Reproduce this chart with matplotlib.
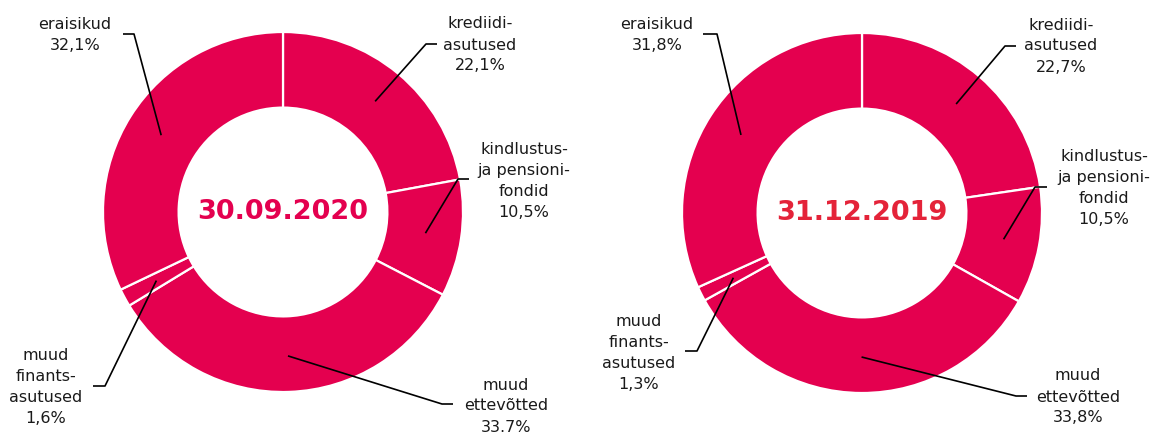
import numpy as np
import matplotlib
matplotlib.use("Agg")
import matplotlib.pyplot as plt

# data
sectors = ["krediidi-\nasutused", "kindlustus-\nja pensioni-\nfondid", "muud\nettevõtted",
           "muud\nfinants-\nasutused", "eraisikud"]
share_2020 = [22.1, 10.5, 33.7, 1.6, 32.1]
share_2019 = [22.7, 10.5, 33.8, 1.3, 31.8]
pct_2020 = ["22,1%", "10,5%", "33.7%", "1,6%", "32,1%"]
pct_2019 = ["22,7%", "10,5%", "33,8%", "1,3%", "31,8%"]
dates = ["30.09.2020", "31.12.2019"]

W, H = 1151, 433
PINK = "#E4004F"
date_colors = ["#E4004F", "#E42339"]

# layout in image pixels (x, y from top): text centre, elbow, line end
layout_2020 = [
    ((480, 45), (426, 44), (437, 44)),
    ((524, 181), (458, 179), (469, 179)),
    ((506, 406), (442, 404), (453, 404)),
    ((46, 387), (105, 386), (93, 386)),
    ((75, 35), (134, 34), (123, 34)),
]
layout_2019 = [
    ((1061, 46), (1005, 46), (1016, 46)),
    ((1104, 188), (1035, 187), (1047, 187)),
    ((1078, 397), (1016, 396), (1027, 396)),
    ((639, 353), (697, 351), (685, 351)),
    ((657, 35), (717, 34), (703, 34)),
]

fig = plt.figure(figsize=(W / 100, H / 100), dpi=100)
ax = fig.add_axes([0, 0, 1, 1])

R = 180
charts = [
    (share_2020, pct_2020, (283, 212), layout_2020, dates[0], date_colors[0]),
    (share_2019, pct_2019, (862, 213), layout_2019, dates[1], date_colors[1]),
]

for vals, pcts, (cx, cy), lay, date, dcol in charts:
    wedges, _ = ax.pie(vals, radius=R, center=(cx, H - cy), startangle=90,
                       counterclock=False, colors=[PINK] * len(vals),
                       wedgeprops=dict(width=0.42 * R, edgecolor="white", linewidth=1.6))
    ax.text(cx, H - cy, date, ha="center", va="center", fontsize=19.5,
            fontweight="bold", color=dcol)
    for w, name, pct, (txt, elbow, end) in zip(wedges, sectors, pcts, lay):
        ang = np.deg2rad((w.theta1 + w.theta2) / 2)
        ax0 = cx + 0.8 * R * np.cos(ang)
        ay0 = H - cy + 0.8 * R * np.sin(ang)
        ax.plot([ax0, elbow[0], end[0]], [ay0, H - elbow[1], H - end[1]],
                color="black", lw=1.2, solid_capstyle="butt")
        ax.text(txt[0], H - txt[1], name + "\n" + pct, ha="center", va="center",
                multialignment="center", fontsize=11.5, linespacing=1.5, color="#1a1a1a")

ax.set_xlim(0, W)
ax.set_ylim(0, H)
ax.set_aspect("equal")
ax.axis("off")

fig.savefig("out.png", dpi=100)
